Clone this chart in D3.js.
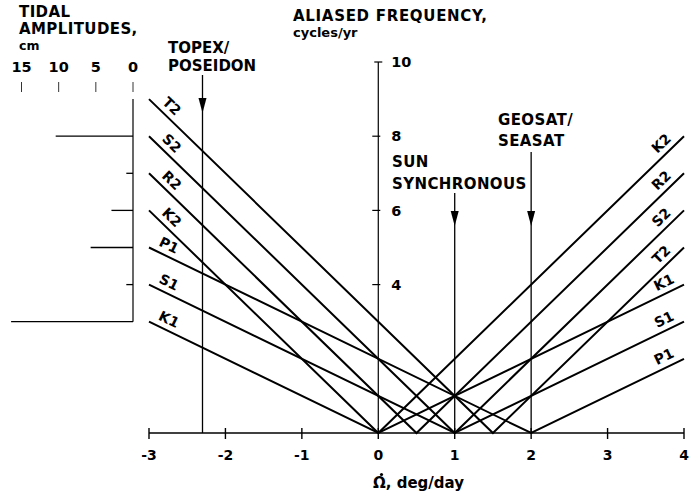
<!DOCTYPE html>
<html>
<head>
<meta charset="utf-8">
<script src="https://cdn.jsdelivr.net/npm/d3@7"></script>
<style>
  html, body { margin: 0; padding: 0; background: #fff; }
  svg text { font-family: "DejaVu Sans", sans-serif; font-weight: bold; fill: #000; }
</style>
</head>
<body>
<svg id="chart" width="693" height="494"></svg>
<script>
// Tidal constituents and their aliasing lines (aliased frequency in cycles/yr
// against nodal precession rate, deg/day).
const tides      = ["T2", "S2", "R2", "K2", "P1", "S1", "K1"];
const vertexRate = [1.5, 1, 0.5, 0, 2, 1, 0];      // rate where the alias frequency is zero
const freqAtMin  = [9, 8, 7, 6, 5, 4, 3];          // aliased frequency at -3 deg/day
const freqAtMax  = [5, 6, 7, 8, 2, 3, 4];          // aliased frequency at 4 deg/day
const amplitudes = [0, 10.4, 0.9, 2.9, 5.7, 0.9, 16.4]; // tidal amplitude, cm

const rateMin = -3, rateMax = 4;
const xTicks = [-3, -2, -1, 0, 1, 2, 3, 4];
const yTicks = [4, 6, 8, 10];
const ampTicks = [15, 10, 5, 0];

const missionLines = [["TOPEX/", "POSEIDON"], ["SUN", "SYNCHRONOUS"], ["GEOSAT/", "SEASAT"]];
const missionRate  = [-2.3, 1, 2];

const svg = d3.select("#chart");

const x = d3.scaleLinear().domain([rateMin, rateMax]).range([149, 684]);
const y = d3.scaleLinear().domain([0, 10]).range([433, 62]);
const amp = d3.scaleLinear().domain([0, 15]).range([133, 21.5]);

// ---- x axis ----
const gx = svg.append("g").attr("transform", `translate(0,${y(0)})`);
gx.append("line").attr("x1", x(rateMin)).attr("x2", x(rateMax))
  .attr("stroke", "#000").attr("stroke-width", 1.6);
gx.selectAll("line.tick").data(xTicks).join("line").attr("class", "tick")
  .attr("x1", d => x(d)).attr("x2", d => x(d)).attr("y1", -5).attr("y2", 6)
  .attr("stroke", "#000").attr("stroke-width", 1.4);
gx.selectAll("text").data(xTicks).join("text")
  .attr("x", d => x(d)).attr("y", 27).attr("text-anchor", "middle")
  .attr("font-size", 14).text(d => d < 0 ? "-" + Math.abs(d) : d);

// axis title: Omega with a dot above (rate of change)
svg.append("text").attr("x", 373).attr("y", 488).attr("font-size", 15)
  .text("\u03A9, deg/day");
svg.append("circle").attr("cx", 381.5).attr("cy", 474.5).attr("r", 1.6).attr("fill", "#000");

// ---- y axis (at zero rate) ----
const gy = svg.append("g").attr("transform", `translate(${x(0)},0)`);
gy.append("line").attr("y1", y(0)).attr("y2", y(10))
  .attr("stroke", "#000").attr("stroke-width", 1.2);
gy.selectAll("line.tick").data(yTicks).join("line").attr("class", "tick")
  .attr("x1", d => d === 10 ? -4 : -6).attr("x2", d => d === 10 ? 4 : 2)
  .attr("y1", d => y(d)).attr("y2", d => y(d))
  .attr("stroke", "#000").attr("stroke-width", 1.2);
gy.selectAll("text").data(yTicks).join("text")
  .attr("x", 13).attr("y", d => y(d)).attr("dy", "0.36em")
  .attr("font-size", 14.5).text(d => d);

svg.append("text").attr("x", 293).attr("y", 21).attr("font-size", 15)
  .attr("letter-spacing", 0.7).text("ALIASED FREQUENCY,");
svg.append("text").attr("x", 293).attr("y", 37).attr("font-size", 13)
  .text("cycles/yr");

// ---- mission markers ----
const missionLayout = [
  { tx: 168, ty: [53, 71], top: 75, tip: 113, ls: 0 },
  { tx: 392, ty: [167, 189], top: 193, tip: 226, ls: 0.4 },
  { tx: 498, ty: [125, 146], top: 152, tip: 226, ls: 0.4 }
];
missionRate.forEach((r, i) => {
  const L = missionLayout[i];
  const px = x(r);
  svg.append("line").attr("x1", px).attr("x2", px).attr("y1", L.top).attr("y2", y(0))
    .attr("stroke", "#000").attr("stroke-width", 1.3);
  svg.append("path")
    .attr("d", `M${px - 4},${L.tip - 15} L${px + 4},${L.tip - 15} L${px},${L.tip} Z`)
    .attr("fill", "#000");
  missionLines[i].forEach((t, j) => {
    svg.append("text").attr("x", L.tx).attr("y", L.ty[j]).attr("font-size", 15)
      .attr("letter-spacing", L.ls).text(t);
  });
});

// ---- aliasing lines ----
const lineGen = d3.line().x(d => x(d[0])).y(d => y(d[1]));
tides.forEach((name, i) => {
  const pts = [[rateMin, freqAtMin[i]], [vertexRate[i], 0], [rateMax, freqAtMax[i]]];
  svg.append("path").attr("d", lineGen(pts)).attr("fill", "none")
    .attr("stroke", "#000").attr("stroke-width", 2).attr("stroke-linejoin", "miter");

  // labels near each end, rotated along the segment and lifted above it
  const place = (p0, p1, at) => {
    const t = (at - p0[0]) / (p1[0] - p0[0]);
    const fx = x(p0[0] + t * (p1[0] - p0[0]));
    const fy = y(p0[1] + t * (p1[1] - p0[1]));
    const dx = x(p1[0]) - x(p0[0]), dy = y(p1[1]) - y(p0[1]);
    const a = Math.atan2(dy, dx);
    const off = 11;
    const cx = fx + Math.sin(a) * off, cy = fy - Math.cos(a) * off;
    svg.append("text").attr("font-size", 14).attr("text-anchor", "middle")
      .attr("dy", "0.36em")
      .attr("transform", `translate(${cx},${cy}) rotate(${a * 180 / Math.PI})`)
      .text(name);
  };
  place(pts[0], pts[1], -2.8);
  place(pts[1], pts[2], 3.8);
});

// ---- tidal amplitude panel ----
svg.append("text").attr("x", 19).attr("y", 17).attr("font-size", 15).attr("letter-spacing", 0.4).text("TIDAL");
svg.append("text").attr("x", 19).attr("y", 34).attr("font-size", 15).attr("letter-spacing", 0.4).text("AMPLITUDES,");
svg.append("text").attr("x", 19).attr("y", 50).attr("font-size", 12.5).text("cm");
svg.selectAll("text.amp").data(ampTicks).join("text").attr("class", "amp")
  .attr("x", d => amp(d)).attr("y", 72).attr("text-anchor", "middle")
  .attr("font-size", 14.5).text(d => d);
svg.selectAll("line.amptick").data(ampTicks).join("line").attr("class", "amptick")
  .attr("x1", d => amp(d)).attr("x2", d => amp(d)).attr("y1", 82).attr("y2", 92)
  .attr("stroke", "#000").attr("stroke-width", 0.8);

svg.append("line").attr("x1", amp(0)).attr("x2", amp(0))
  .attr("y1", y(freqAtMin[0])).attr("y2", y(freqAtMin[6]))
  .attr("stroke", "#000").attr("stroke-width", 1.2);
svg.selectAll("line.ampbar").data(tides).join("line").attr("class", "ampbar")
  .attr("x1", (d, i) => amp(amplitudes[i])).attr("x2", amp(0))
  .attr("y1", (d, i) => y(freqAtMin[i])).attr("y2", (d, i) => y(freqAtMin[i]))
  .attr("stroke", "#000").attr("stroke-width", 1.3);
</script>
</body>
</html>
